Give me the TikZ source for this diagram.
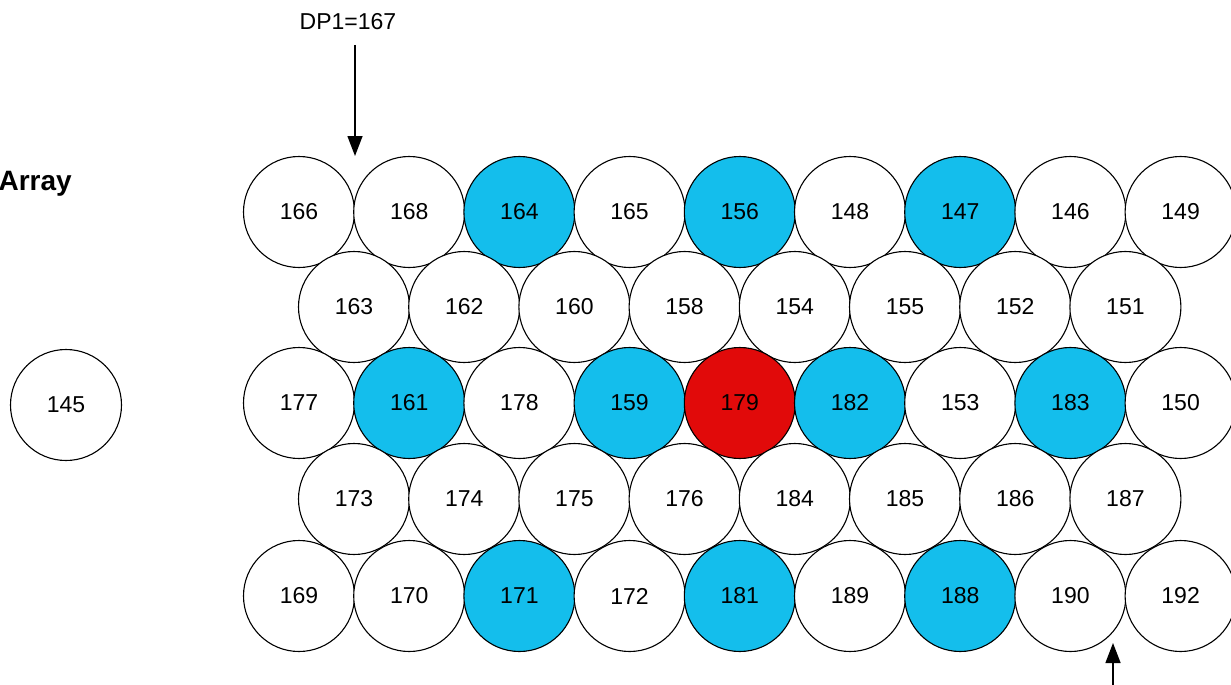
\documentclass[tikz,border=0pt]{standalone}
\usepackage{fontspec}
\setmainfont{Liberation Sans}
\usetikzlibrary{arrows.meta}
\definecolor{cblue}{RGB}{20,190,236}
\definecolor{cred}{RGB}{225,10,10}
\tikzset{
  cell/.style={circle,draw=black,line width=1.1pt,minimum size=111pt,inner sep=0pt,fill=white,font=\fontsize{23}{27}\selectfont},
  bcell/.style={cell,fill=cblue},
  rcell/.style={cell,fill=cred},
  arr/.style={line width=1.4pt,-{Triangle[length=20pt,width=15pt]}},
  lbl/.style={inner sep=0pt,font=\fontsize{23}{27}\selectfont}
}
\begin{document}
\begin{tikzpicture}[x=1pt,y=-1pt]
\useasboundingbox (0,0) rectangle (1231,685);
\fill[white] (0,0) rectangle (1231,685);
% row 1
\foreach \n/\s [count=\i from 0] in {166/cell,168/cell,164/bcell,165/cell,156/bcell,148/cell,147/bcell,146/cell,149/cell}
  \node[\s] (c\n) at ({299+110.2*\i},212) {\n};
% row 2
\foreach \n/\s [count=\i from 0] in {163/cell,162/cell,160/cell,158/cell,154/cell,155/cell,152/cell,151/cell}
  \node[\s] (c\n) at ({354+110.2*\i},307) {\n};
% row 3
\foreach \n/\s [count=\i from 0] in {177/cell,161/bcell,178/cell,159/bcell,179/rcell,182/bcell,153/cell,183/bcell,150/cell}
  \node[\s] (c\n) at ({299+110.2*\i},403) {\n};
% row 4
\foreach \n/\s [count=\i from 0] in {173/cell,174/cell,175/cell,176/cell,184/cell,185/cell,186/cell,187/cell}
  \node[\s] (c\n) at ({354+110.2*\i},499) {\n};
% row 5
\foreach \n/\s [count=\i from 0] in {169/cell,170/cell,171/bcell,172/cell,181/bcell,189/cell,188/bcell,190/cell,192/cell}
  \node[\s] (c\n) at ({299+110.2*\i},596) {\n};
% separate cell
\node[cell] (c145) at (66,405) {145};
% title
\node[anchor=east,inner sep=0pt,font=\bfseries\fontsize{28}{32}\selectfont] (title) at (72,184) {Array};
% DP1 label and arrow
\node[lbl] (dp1) at (348,22) {DP1=167};
\coordinate (dpstart) at (355,45);
\coordinate (dptip) at (355,156);
\draw[arr] (dpstart) -- (dptip);
% bottom arrow
\coordinate (bstart) at (1113,690);
\coordinate (btip) at (1113,643);
\draw[arr] (bstart) -- (btip);
\end{tikzpicture}
\end{document}
